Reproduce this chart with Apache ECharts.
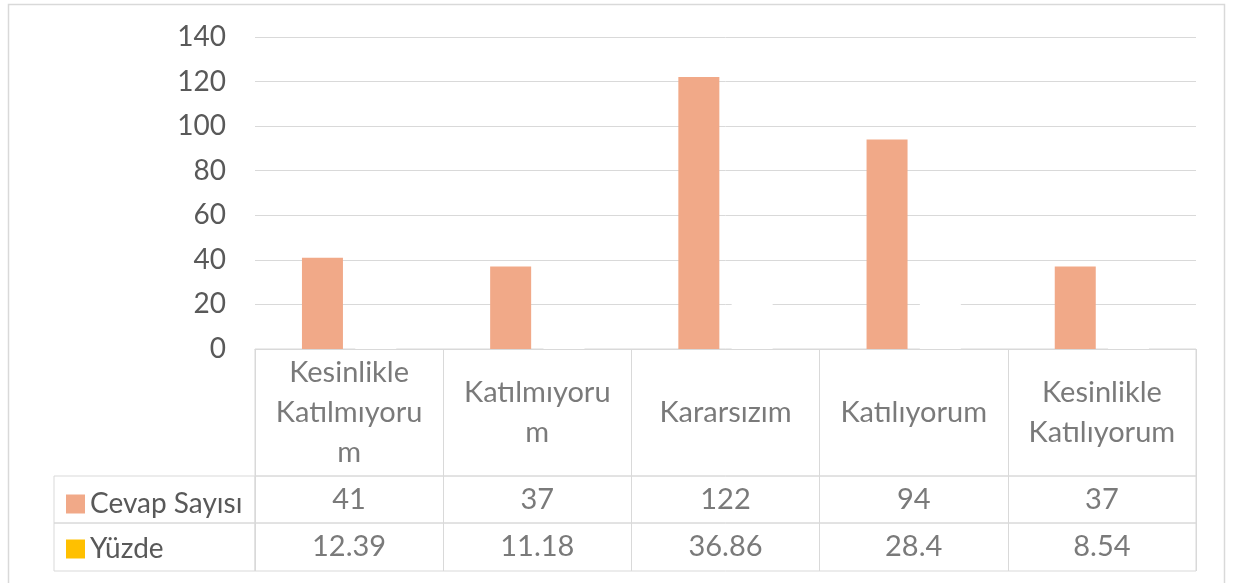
<!DOCTYPE html>
<html>
<head>
<meta charset="utf-8">
<script src="https://cdn.jsdelivr.net/npm/echarts@6/dist/echarts.min.js"></script>
<style>
  html, body { margin: 0; padding: 0; background: #fff; }
  #chart { width: 1233px; height: 583px; }
</style>
</head>
<body>
<div id="chart"></div>
<script>
var categories = ['Kesinlikle Katılmıyorum', 'Katılmıyorum', 'Kararsızım', 'Katılıyorum', 'Kesinlikle Katılıyorum'];
// labels as they wrap in the table header
var categoryLabels = ['Kesinlikle\nKatılmıyoru\nm', 'Katılmıyoru\nm', 'Kararsızım', 'Katılıyorum', 'Kesinlikle\nKatılıyorum'];
var cevapSayisi = [41, 37, 122, 94, 37];
var yuzde = [12.39, 11.18, 36.86, 28.4, 8.54];
var yMin = 0, yMax = 140, yStep = 20;

var textColor = '#595959';
var lineColor = '#D9D9D9';
var font = 'Lato';

var myChart = echarts.init(document.getElementById('chart'));

// table cell grid: category columns, hidden 0..1 value axis
function cellAxes (idx) {
  return {
    x: {
      type: 'category', gridIndex: idx, data: categories, boundaryGap: true,
      axisLine: { show: false }, axisTick: { show: false }, axisLabel: { show: false },
      splitLine: { show: true, lineStyle: { color: lineColor, width: 1 } }
    },
    y: { type: 'value', gridIndex: idx, min: 0, max: 1, show: false }
  }
}

function cellText (idx, texts) {
  return {
    type: 'scatter', name: 'cell' + idx, xAxisIndex: idx, yAxisIndex: idx,
    symbolSize: 0, silent: true,
    data: texts.map(function (t, i) { return [i, 0.5]; }),
    label: {
      show: true, position: 'inside', color: textColor,
      fontFamily: font, fontSize: 29, lineHeight: 40,
      formatter: function (p) { return String(texts[p.dataIndex]); }
    }
  }
}

var gridStyle = { show: true, borderColor: lineColor, borderWidth: 1, backgroundColor: 'transparent' };
var head = cellAxes(1), row1 = cellAxes(2), row2 = cellAxes(3);

var option = {
  animation: false,
  graphic: [{
    type: 'rect', shape: { x: 8.5, y: 4.5, width: 1216, height: 640 },
    style: { fill: 'none', stroke: lineColor, lineWidth: 1.5 }, silent: true
  }],
  legend: {
    data: [
      { name: 'Cevap Sayısı', itemStyle: { color: '#F1A988' } },
      { name: 'Yüzde', itemStyle: { color: '#FFC000' } }
    ],
    orient: 'vertical', left: 61, top: 485,
    icon: 'rect', itemWidth: 19, itemHeight: 19, itemGap: 17,
    selectedMode: false,
    textStyle: { color: textColor, fontFamily: font, fontSize: 28, lineHeight: 28 }
  },
  grid: [
    { left: 255, right: 37, top: 37, height: 312 },
    Object.assign({ left: 255, right: 37, top: 349, height: 127 }, gridStyle),
    Object.assign({ left: 255, right: 37, top: 476, height: 47 }, gridStyle),
    Object.assign({ left: 255, right: 37, top: 523, height: 48 }, gridStyle),
    Object.assign({ left: 54, width: 201, top: 476, height: 47 }, gridStyle),
    Object.assign({ left: 54, width: 201, top: 523, height: 48 }, gridStyle)
  ],
  xAxis: [
    {
      type: 'category', gridIndex: 0, data: categories,
      axisLine: { show: true, lineStyle: { color: lineColor } },
      axisTick: { show: false }, axisLabel: { show: false }
    },
    head.x, row1.x, row2.x,
    { type: 'value', gridIndex: 4, show: false },
    { type: 'value', gridIndex: 5, show: false }
  ],
  yAxis: [
    {
      type: 'value', gridIndex: 0, min: yMin, max: yMax, interval: yStep,
      axisLine: { show: false }, axisTick: { show: false },
      axisLabel: { color: textColor, fontFamily: font, fontSize: 28, margin: 29 },
      splitLine: { lineStyle: { color: lineColor, width: 1 } }
    },
    head.y, row1.y, row2.y,
    { type: 'value', gridIndex: 4, show: false },
    { type: 'value', gridIndex: 5, show: false }
  ],
  series: [
    {
      name: 'Cevap Sayısı', type: 'bar', data: cevapSayisi,
      barWidth: 41, barGap: '30%',
      itemStyle: { color: '#F1A988' }
    },
    {
      // drawn white in the original, only hides the gridlines
      name: 'Yüzde', type: 'bar', data: yuzde,
      barWidth: 41, barGap: '30%',
      itemStyle: { color: '#FFFFFF' }
    },
    cellText(1, categoryLabels),
    cellText(2, cevapSayisi),
    cellText(3, yuzde)
  ]
};

myChart.setOption(option);
window.addEventListener('resize', () => {
  myChart.resize()
})
</script>
</body>
</html>
